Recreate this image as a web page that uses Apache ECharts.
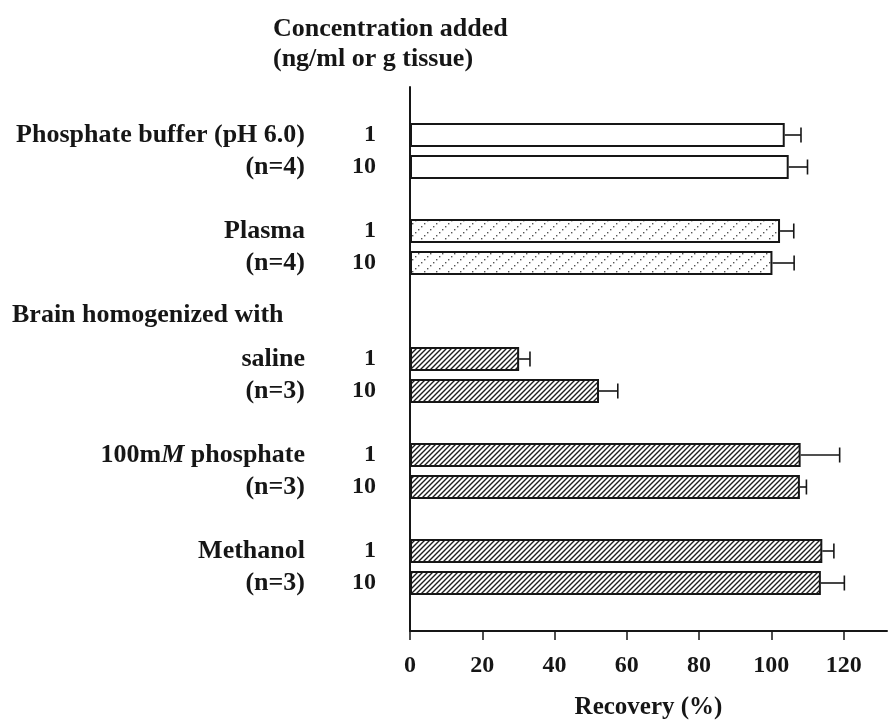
<!DOCTYPE html>
<html>
<head>
<meta charset="utf-8">
<script src="https://cdn.jsdelivr.net/npm/echarts@6/dist/echarts.min.js"></script>
<style>
html, body { margin: 0; padding: 0; background: #fff; }
#chart { width: 889px; height: 724px; }
</style>
</head>
<body>
<div id="chart"></div>
<script>
// one slot per row of the plot, top to bottom (empty slots are the gaps)
const concLabels = ['', '1', '10', '', '1', '10', '', '', '1', '10', '', '1', '10', '', '1', '10', ''];
const rowLabels = ['', 'Phosphate buffer (pH 6.0)', '(n=4)', '', 'Plasma', '(n=4)', '', '',
  'saline', '(n=3)', '', '100m{i|M} phosphate', '(n=3)', '', 'Methanol', '(n=3)', ''];
const matrix = ['', 'buffer', 'buffer', '', 'plasma', 'plasma', '', '',
  'brain', 'brain', '', 'brain', 'brain', '', 'brain', 'brain', ''];
const recovery = [null, 103.7, 104.8, null, 102.4, 100.3, null, null, 30.2, 52.3, null, 108.1, 107.9, null, 114.1, 113.7, null];
const sd = [null, 4.5, 5.2, null, 3.8, 6.0, null, null, 3.0, 5.2, null, 10.8, 1.8, null, 3.2, 6.5, null];
const xTicks = [0, 20, 40, 60, 80, 100, 120];

const ink = '#161616';
const font = 'Liberation Serif';

function hatchPattern() {
  let c = document.createElement('canvas');
  c.width = 5; c.height = 5;
  let g = c.getContext('2d');
  g.fillStyle = '#fff';
  g.fillRect(0, 0, 5, 5);
  g.strokeStyle = '#1e1e1e';
  g.lineWidth = 1.4;
  g.beginPath();
  g.moveTo(-1, 6); g.lineTo(6, -1);
  g.moveTo(-1, 1); g.lineTo(1, -1);
  g.moveTo(4, 6); g.lineTo(6, 4);
  g.stroke();
  return c;
}
function dotPattern() {
  let c = document.createElement('canvas');
  c.width = 12; c.height = 12;
  let g = c.getContext('2d');
  g.fillStyle = '#fff';
  g.fillRect(0, 0, 12, 12);
  g.fillStyle = '#555';
  [1, 4, 7, 10].forEach(i => g.fillRect(i, 11 - i, 1.4, 1.4));
  return c;
}
const fills = {
  buffer: '#fff',
  plasma: { image: dotPattern(), repeat: 'repeat' },
  brain: { image: hatchPattern(), repeat: 'repeat' }
};

const slots = concLabels.map((_, i) => String(i));
const barData = recovery.map((v, i) => v == null ? '-' : {
  value: v,
  itemStyle: { color: fills[matrix[i]] }
});
const errData = recovery.map((v, i) => v == null ? null : [v, i, sd[i]]).filter(d => d);

const chart = echarts.init(document.getElementById('chart'));
chart.setOption({
  animation: false,
  backgroundColor: '#fff',
  textStyle: { fontFamily: font, fontWeight: 'bold', color: ink },
  grid: { left: 410, right: 2, top: 87, bottom: 93, containLabel: false, outerBoundsMode: 'none' },
  xAxis: {
    type: 'value',
    min: 0,
    max: 132,
    interval: 20,
    name: 'Recovery (%)',
    nameLocation: 'middle',
    nameGap: 64,
    nameTextStyle: { fontFamily: font, fontWeight: 'bold', fontSize: 25, color: ink },
    axisLine: { show: true, lineStyle: { color: ink, width: 2 } },
    axisTick: { show: true, length: 9, customValues: xTicks, lineStyle: { color: ink, width: 1.5 } },
    axisLabel: { customValues: xTicks, margin: 23, fontFamily: font, fontWeight: 'bold', fontSize: 24, color: ink },
    splitLine: { show: false }
  },
  yAxis: [
    {
      type: 'category',
      data: slots,
      inverse: true,
      axisLine: { show: true, lineStyle: { color: ink, width: 2 } },
      axisTick: { show: false },
      axisLabel: {
        interval: 0,
        margin: 34,
        fontFamily: font, fontWeight: 'bold', fontSize: 24, color: ink,
        formatter: (v, i) => concLabels[i]
      }
    },
    {
      type: 'category',
      position: 'left',
      data: slots,
      inverse: true,
      axisLine: { show: false },
      axisTick: { show: false },
      axisLabel: {
        interval: 0,
        margin: 105,
        fontFamily: font, fontWeight: 'bold', fontSize: 26, color: ink,
        formatter: (v, i) => rowLabels[i],
        rich: {
          i: { fontFamily: font, fontWeight: 'bold', fontStyle: 'italic', fontSize: 26, color: ink }
        }
      }
    }
  ],
  graphic: [
    {
      type: 'text',
      left: 273, top: 14,
      style: {
        text: 'Concentration added\n(ng/ml or g tissue)',
        align: 'center',
        lineHeight: 30,
        font: 'bold 26px "Liberation Serif"',
        fill: ink
      }
    },
    {
      type: 'text',
      left: 12, top: 302,
      style: {
        text: 'Brain homogenized with',
        font: 'bold 26px "Liberation Serif"',
        fill: ink
      }
    }
  ],
  series: [
    {
      type: 'bar',
      yAxisIndex: 0,
      barWidth: 24,
      data: barData,
      itemStyle: { borderColor: ink, borderWidth: 2 }
    },
    {
      type: 'custom',
      yAxisIndex: 0,
      encode: { x: 0, y: 1 },
      data: errData,
      z: 3,
      renderItem: function (params, api) {
        let v = api.value(0);
        let idx = api.value(1);
        let e = api.value(2);
        let a = api.coord([v, idx]);
        let b = api.coord([v + e, idx]);
        let s = { stroke: ink, lineWidth: 1.6 };
        return {
          type: 'group',
          children: [
            { type: 'line', shape: { x1: a[0], y1: a[1], x2: b[0], y2: b[1] }, style: s },
            { type: 'line', shape: { x1: b[0], y1: b[1] - 7.5, x2: b[0], y2: b[1] + 7.5 }, style: s }
          ]
        };
      }
    }
  ]
});
</script>
</body>
</html>
